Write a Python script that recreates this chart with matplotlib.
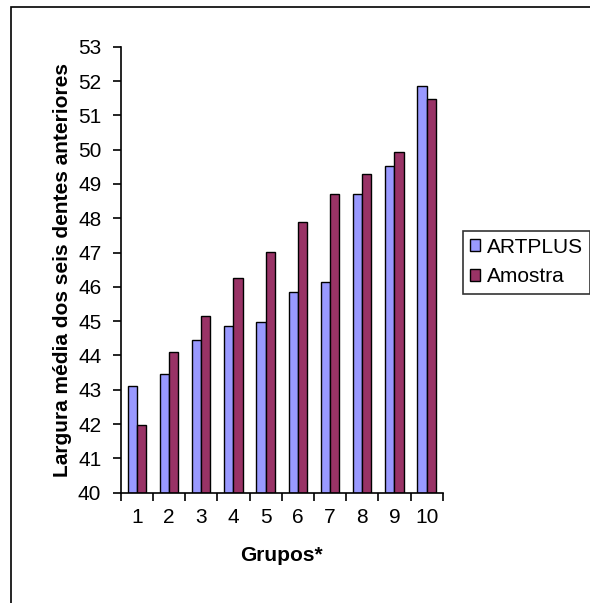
import matplotlib
matplotlib.use("Agg")
import matplotlib.pyplot as plt
from matplotlib.patches import Rectangle
import numpy as np

plt.rcParams['font.family'] = ['Liberation Sans', 'DejaVu Sans']

grupos = ["1", "2", "3", "4", "5", "6", "7", "8", "9", "10"]
artplus = [43.12, 43.47, 44.46, 44.86, 44.98, 45.85, 46.14, 48.70, 49.52, 51.85]
amostra = [41.96, 44.10, 45.16, 46.27, 47.02, 47.90, 48.71, 49.28, 49.92, 51.49]
yticks = list(range(40, 54))
series_names = ["ARTPLUS", "Amostra"]

FS = 15

fig = plt.figure(figsize=(5.90, 6.03), dpi=100)
fig.patch.set_facecolor("white")

# outer chart-area frame
fig.patches.append(Rectangle((11 / 590, -0.05), 1.2, (603 - 7) / 603 + 0.05,
                             transform=fig.transFigure, fill=False,
                             edgecolor="black", linewidth=1.2))

ax = fig.add_axes([120.7 / 590, 1 - 492.7 / 603, 322 / 590, 446 / 603])

x = np.arange(1, len(grupos) + 1)
w = 1 / 3.5
b1 = ax.bar(x - w / 2, np.array(artplus) - 40, bottom=40, width=w,
            color="#9999FF", edgecolor="black", linewidth=1.0,
            label=series_names[0])
b2 = ax.bar(x + w / 2, np.array(amostra) - 40, bottom=40, width=w,
            color="#993366", edgecolor="black", linewidth=1.0,
            label=series_names[1])

ax.set_xlim(0.5, len(grupos) + 0.5)
ax.set_ylim(40, 53)
ax.set_yticks(yticks)
ax.set_yticklabels([str(t) for t in yticks])

# ticks at category boundaries, labels centred on categories
ax.set_xticks(np.arange(0.5, len(grupos) + 1, 1.0))
ax.set_xticklabels([])
ax.set_xticks(x, minor=True)
ax.set_xticklabels(grupos, minor=True)
ax.tick_params(axis="x", which="minor", length=0, pad=11, labelsize=FS)
ax.tick_params(axis="x", which="major", length=6, width=1.2, direction="out")
ax.tick_params(axis="y", length=6, width=1.2, direction="out", pad=8,
               labelsize=FS)

for s in ["top", "right"]:
    ax.spines[s].set_visible(False)
for s in ["left", "bottom"]:
    ax.spines[s].set_linewidth(1.2)

ax.set_ylabel("Largura média dos seis dentes anteriores", fontsize=FS,
              fontweight="bold", labelpad=4)
ax.set_xlabel("Grupos*", fontsize=FS, fontweight="bold", labelpad=14)

leg = fig.legend(handles=[b1, b2], labels=series_names,
                 loc="center left", bbox_to_anchor=(462.5 / 590, 1 - 262 / 603),
                 fontsize=FS, frameon=True, fancybox=False,
                 edgecolor="black", handlelength=0.5, handleheight=0.5,
                 handletextpad=0.3, borderpad=0.35, labelspacing=0.5,
                 borderaxespad=0)
leg.get_frame().set_linewidth(1.2)

fig.savefig("out.png", dpi=100)
